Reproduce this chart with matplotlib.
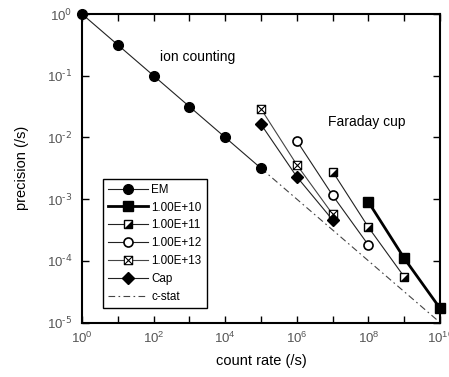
import matplotlib
matplotlib.use("Agg")
import matplotlib.pyplot as plt
from matplotlib.path import Path
from matplotlib.legend_handler import HandlerTuple
import numpy as np

plt.rcParams['font.family'] = ['Liberation Sans', 'DejaVu Sans']
plt.rcParams['mathtext.fontset'] = 'custom'
plt.rcParams['mathtext.rm'] = 'Liberation Sans'
plt.rcParams['mathtext.it'] = 'Liberation Sans'
plt.rcParams['mathtext.default'] = 'regular'

# data
em_x = [1e0, 1e1, 1e2, 1e3, 1e4, 1e5]
em_y = [1.0, 0.316, 0.1, 0.0316, 0.01, 0.00316]
e10_x = [1e8, 1e9, 1e10]
e10_y = [9.0e-4, 1.1e-4, 1.7e-5]
e11_x = [1e7, 1e8, 1e9]
e11_y = [2.8e-3, 3.5e-4, 5.5e-5]
e12_x = [1e6, 1e7, 1e8]
e12_y = [8.8e-3, 1.15e-3, 1.8e-4]
e13_x = [1e5, 1e6, 1e7]
e13_y = [2.9e-2, 3.6e-3, 5.7e-4]
cap_x = [1e5, 1e6, 1e7]
cap_y = [1.63e-2, 2.3e-3, 4.6e-4]
cstat_x = [1e5, 1e10]
cstat_y = [0.00316, 1e-5]

labels = ['EM', '1.00E+10', '1.00E+11', '1.00E+12', '1.00E+13', 'Cap', 'c-stat']
xexp = list(range(0, 11))
yexp = list(range(-5, 1))

fig = plt.figure(figsize=(4.49, 3.77), dpi=100)
L, R, T, B = 82, 440, 14, 322.5
ax = fig.add_axes([L/449, 1-B/377, (R-L)/449, (B-T)/377])

lc = '#222222'
boxx = Path([(-1, -1), (1, -1), (1, 1), (-1, 1), (-1, -1), (-1, -1), (1, 1), (-1, 1), (1, -1)],
            [Path.MOVETO, Path.LINETO, Path.LINETO, Path.LINETO, Path.CLOSEPOLY,
             Path.MOVETO, Path.LINETO, Path.MOVETO, Path.LINETO])
tri = [(-1, -1), (1, -1), (1, 1)]

h_cs, = ax.plot(cstat_x, cstat_y, color='#444444', lw=0.8, ls=(0, (6, 3, 1.5, 3)), zorder=1)
h_em, = ax.plot(em_x, em_y, color=lc, lw=0.8, marker='o', ms=7, mfc='black', mec='black', zorder=3, clip_on=False)
h10, = ax.plot(e10_x, e10_y, color='black', lw=2.0, marker='s', ms=6.5, mfc='black', mec='black', zorder=3, clip_on=False)
h11, = ax.plot(e11_x, e11_y, color=lc, lw=0.8, marker='s', ms=6, mfc='white', mec='black', mew=1.0, zorder=3)
h11b, = ax.plot(e11_x, e11_y, ls='none', marker=tri, ms=5.2, mfc='black', mec='black', mew=0.5, zorder=4)
h12, = ax.plot(e12_x, e12_y, color=lc, lw=0.8, marker='o', ms=6.5, mfc='white', mec='black', mew=1.2, zorder=3)
h13, = ax.plot(e13_x, e13_y, color='#444444', lw=0.8, marker=boxx, ms=6, mfc='white', mec='black', mew=0.8, zorder=3)
hcap, = ax.plot(cap_x, cap_y, color=lc, lw=0.8, marker='D', ms=6, mfc='black', mec='black', zorder=3)

ax.set_xscale('log')
ax.set_yscale('log')
ax.set_xlim(1, 1e10)
ax.set_ylim(1e-5, 1)
ax.set_xticks([10.0**k for k in xexp])
ax.set_xticklabels([r'$10^{%d}$' % k if k % 2 == 0 else '' for k in xexp])
ax.set_yticks([10.0**k for k in yexp])
ax.set_yticklabels([r'$10^{\mathsf{%s}}$' % ('\u2010' + str(-k) if k < 0 else str(k)) for k in yexp])
ax.minorticks_off()
ax.tick_params(which='major', direction='in', top=True, right=True, length=5, width=1,
               labelsize=9.5, colors='black', labelcolor='#555555')
ax.tick_params(axis='y', pad=7)
ax.tick_params(axis='x', pad=6)
for s in ax.spines.values():
    s.set_linewidth(1.5)

ax.set_xlabel('count rate (/s)', fontsize=10.5, labelpad=6)
ax.set_ylabel('precision (/s)', fontsize=10.5, labelpad=13)

ax.text(10**2.18, 10**-0.70, 'ion counting', fontsize=10, va='center', ha='left')
ax.text(10**6.87, 10**-1.75, 'Faraday cup', fontsize=10, va='center', ha='left')

leg = ax.legend([h_em, h10, (h11, h11b), h12, h13, hcap, h_cs], labels,
                handler_map={tuple: HandlerTuple(ndivide=1, pad=0)},
                loc='lower left', bbox_to_anchor=((103-L)/(R-L), (B-308)/(B-T)), fontsize=8.4,
                frameon=True, fancybox=False, edgecolor='black', framealpha=1,
                handlelength=3.4, labelspacing=0.5, borderpad=0.45, handletextpad=0.3,
                borderaxespad=0)
leg.get_frame().set_linewidth(1.0)

fig.savefig('out.png', dpi=100)
